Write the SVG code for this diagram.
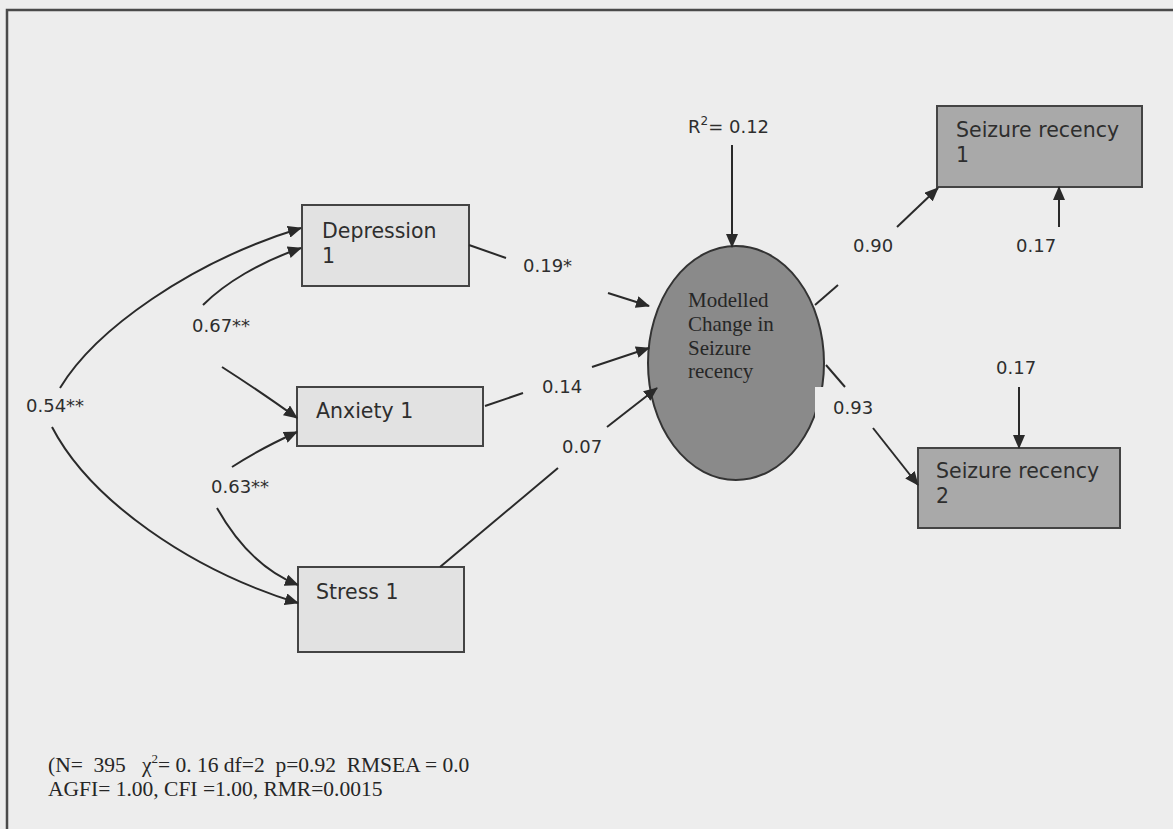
<svg xmlns="http://www.w3.org/2000/svg" width="1173" height="829" viewBox="0 0 1173 829">
  <defs>
    <marker id="arrow" markerUnits="userSpaceOnUse" markerWidth="14" markerHeight="12" refX="13" refY="6" orient="auto">
      <path d="M0,0 L14,6 L0,12 z" fill="#2a2a2a"/>
    </marker>
    <style>
      .frame { stroke: #4a4a4a; stroke-width: 2.5; fill: none; }
      .box { fill: #e2e2e2; stroke: #444; stroke-width: 2; }
      .dark { fill: #a9a9a9; stroke: #444; stroke-width: 2; }
      .latent { fill: #8a8a8a; stroke: #333; stroke-width: 2; }
      .lbl { font-family: "DejaVu Sans", Verdana, sans-serif; font-size: 20.5px; fill: #2e2e2e; }
      .coef { font-family: "DejaVu Sans", Verdana, sans-serif; font-size: 18px; fill: #2e2e2e; }
      .serif { font-family: "Liberation Serif", "Times New Roman", serif; fill: #262626; }
      .edge { stroke: #2a2a2a; stroke-width: 2; fill: none; }
      .arr { marker-end: url(#arrow); }
    </style>
  </defs>

  <!-- page -->
  <rect x="0" y="0" width="1173" height="829" fill="#ededed"/>
  <path class="frame" d="M7,829 L7,10 L1173,10"/>

  <!-- latent variable -->
  <g id="change">
    <ellipse class="latent" cx="736" cy="363" rx="88" ry="117"/>
    <rect x="815" y="387" width="60" height="40" fill="#ededed"/>
    <text class="serif" font-size="21" x="688" y="307">Modelled</text>
    <text class="serif" font-size="21" x="688" y="331">Change in</text>
    <text class="serif" font-size="21" x="688" y="355">Seizure</text>
    <text class="serif" font-size="21" x="688" y="378">recency</text>
  </g>

  <g id="depression">
    <rect class="box" x="302" y="205" width="167" height="81"/>
    <text class="lbl" x="322" y="238">Depression</text>
    <text class="lbl" x="322" y="263">1</text>
  </g>

  <g id="anxiety">
    <rect class="box" x="297" y="387" width="186" height="59"/>
    <text class="lbl" x="316" y="418">Anxiety 1</text>
  </g>

  <g id="stress">
    <rect class="box" x="298" y="567" width="166" height="85"/>
    <text class="lbl" x="316" y="599">Stress 1</text>
  </g>

  <g id="recency1">
    <rect class="dark" x="937" y="106" width="205" height="81"/>
    <text class="lbl" x="956" y="137">Seizure recency</text>
    <text class="lbl" x="956" y="162">1</text>
  </g>

  <g id="recency2">
    <rect class="dark" x="918" y="448" width="202" height="80"/>
    <text class="lbl" x="936" y="478">Seizure recency</text>
    <text class="lbl" x="936" y="503">2</text>
  </g>

  <!-- paths and correlations -->
  <g id="connectors">
    <!-- correlations between the predictors -->
    <path class="edge arr" d="M60,388 C95,330 190,262 301,228"/>
    <path class="edge arr" d="M52,427 C90,500 190,570 298,603"/>
    <path class="edge arr" d="M203,305 C225,283 260,262 301,248"/>
    <path class="edge arr" d="M222,367 C250,385 275,402 297,418"/>
    <path class="edge arr" d="M232,467 C255,452 275,442 297,432"/>
    <path class="edge arr" d="M217,508 C235,540 260,570 298,585"/>

    <!-- predictors to latent change -->
    <path class="edge" d="M469,245 L506,258"/>
    <path class="edge arr" d="M608,293 L649,306"/>
    <path class="edge" d="M485,406 L523,393"/>
    <path class="edge arr" d="M592,367 L649,348"/>
    <path class="edge" d="M440,567 L558,468"/>
    <path class="edge arr" d="M607,427 L657,388"/>

    <!-- residual of the latent -->
    <path class="edge arr" d="M732,145 L732,247"/>

    <!-- latent change to the two measures -->
    <path class="edge" d="M815,305 L838,285"/>
    <path class="edge arr" d="M897,227 L938,188"/>
    <path class="edge" d="M826,365 L845,387"/>
    <path class="edge arr" d="M873,428 L918,485"/>

    <!-- residuals of the measures -->
    <path class="edge arr" d="M1059,227 L1059,187"/>
    <path class="edge arr" d="M1019,387 L1019,448"/>
  </g>

  <!-- coefficients -->
  <g id="labels">
    <text class="coef" x="688" y="133">R<tspan font-size="12" dy="-8">2</tspan><tspan dy="8">= 0.12</tspan></text>
    <text class="coef" x="523" y="272">0.19*</text>
    <text class="coef" x="192" y="332">0.67**</text>
    <text class="coef" x="26" y="412">0.54**</text>
    <text class="coef" x="211" y="493">0.63**</text>
    <text class="coef" x="542" y="393">0.14</text>
    <text class="coef" x="562" y="453">0.07</text>
    <text class="coef" x="853" y="252">0.90</text>
    <text class="coef" x="1016" y="252">0.17</text>
    <text class="coef" x="833" y="414">0.93</text>
    <text class="coef" x="996" y="374">0.17</text>
  </g>

  <!-- fit statistics -->
  <g id="fit" class="serif" font-size="21.5">
    <text x="48" y="772" xml:space="preserve">(N=  395   χ<tspan font-size="13" dy="-9">2</tspan><tspan dy="9">= 0. 16 df=2  p=0.92  RMSEA = 0.0</tspan></text>
    <text x="48" y="796">AGFI= 1.00, CFI =1.00, RMR=0.0015</text>
  </g>
</svg>
